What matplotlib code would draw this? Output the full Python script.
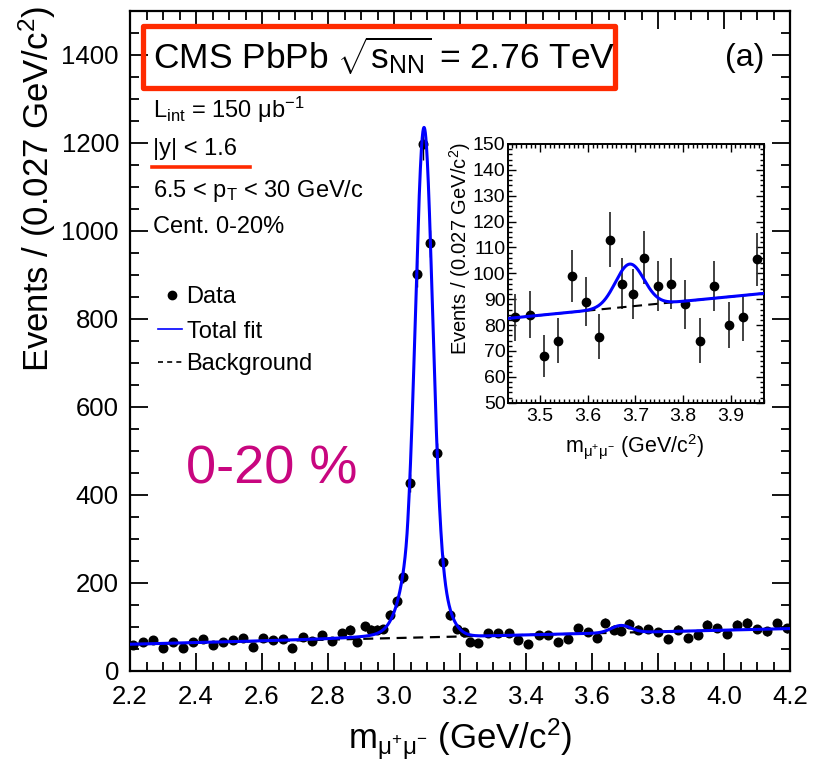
import numpy as np
import matplotlib
matplotlib.use("Agg")
import matplotlib.pyplot as plt
from matplotlib.ticker import MultipleLocator, FixedLocator, FormatStrFormatter
from matplotlib.patches import Rectangle
from matplotlib.lines import Line2D

plt.rcParams['font.family'] = ['Liberation Sans', 'DejaVu Sans']
plt.rcParams['mathtext.fontset'] = 'custom'
plt.rcParams['mathtext.rm'] = 'Liberation Sans'
plt.rcParams['mathtext.it'] = 'Liberation Sans:italic'
plt.rcParams['mathtext.bf'] = 'Liberation Sans:bold'

# ---------------- data ----------------
main_mass = [2.210, 2.240, 2.271, 2.301, 2.331, 2.362, 2.392, 2.422, 2.452, 2.483,
             2.513, 2.543, 2.573, 2.604, 2.634, 2.664, 2.692, 2.723, 2.753, 2.783,
             2.813, 2.843, 2.866, 2.888, 2.911, 2.930, 2.948, 2.968, 2.988, 3.010,
             3.028, 3.048, 3.071, 3.089, 3.110, 3.129, 3.149, 3.170, 3.192, 3.212,
             3.230, 3.256, 3.286, 3.316, 3.347, 3.377, 3.407, 3.438, 3.466, 3.497,
             3.527, 3.558, 3.588, 3.614, 3.639, 3.666, 3.689, 3.712, 3.740, 3.770,
             3.800, 3.830, 3.861, 3.891, 3.921, 3.949, 3.980, 4.010, 4.040, 4.071,
             4.101, 4.131, 4.162, 4.190]
main_counts = [59, 65, 71, 53, 65, 53, 66, 72, 58, 66,
               71, 74, 55, 74, 70, 72, 52, 78, 69, 81,
               69, 86, 94, 66, 102, 94, 94, 95, 127, 158,
               214, 427, 903, 1197, 972, 496, 248, 128, 95, 88,
               67, 63, 86, 86, 86, 71, 62, 82, 82, 67,
               72, 98, 88, 75, 110, 94, 92, 107, 94, 95,
               88, 72, 94, 76, 82, 105, 98, 84, 105, 109,
               95, 90, 108, 97]

inset_mass = [3.448, 3.478, 3.508, 3.537, 3.567, 3.596, 3.624, 3.647, 3.672, 3.695,
              3.719, 3.747, 3.775, 3.805, 3.835, 3.865, 3.896, 3.926, 3.956]
inset_counts = [83, 84, 68, 74, 99, 89, 75.5, 113, 96, 92,
                106, 95, 96, 88, 74, 95, 80, 83, 105.5]

main_xticks = [2.2, 2.4, 2.6, 2.8, 3.0, 3.2, 3.4, 3.6, 3.8, 4.0, 4.2]
main_yticks = [0, 200, 400, 600, 800, 1000, 1200, 1400]
inset_xticks = [3.5, 3.6, 3.7, 3.8, 3.9]
inset_yticks = [50, 60, 70, 80, 90, 100, 110, 120, 130, 140, 150]

# fit model parameters
bkg_at_22 = 60.4        # background level at 2.2 GeV
bkg_slope = 18.0        # per GeV
jpsi_mean = 3.091
jpsi_sigma_core = 0.025
jpsi_amp_core = 940.0
jpsi_cb_alpha = 2.0
jpsi_cb_n = 1.5
jpsi_sigma_wide = 0.048
jpsi_amp_wide = 219.0
psi2s_mean = 3.688
psi2s_sigma = 0.030
psi2s_amp = 16.4


def background(m):
    return bkg_at_22 + bkg_slope * (m - 2.2)


def crystal_ball(t, alpha, n):
    out = np.exp(-0.5 * t ** 2)
    A = (n / alpha) ** n * np.exp(-0.5 * alpha ** 2)
    B = n / alpha - alpha
    tail = t < -alpha
    out[tail] = A * (B - t[tail]) ** (-n)
    return out


def total_fit(m):
    t = (m - jpsi_mean) / jpsi_sigma_core
    sig = jpsi_amp_core * crystal_ball(t, jpsi_cb_alpha, jpsi_cb_n)
    sig += jpsi_amp_wide * np.exp(-0.5 * ((m - jpsi_mean) / jpsi_sigma_wide) ** 2)
    sig += psi2s_amp * np.exp(-0.5 * ((m - psi2s_mean) / psi2s_sigma) ** 2)
    return background(m) + sig


# ---------------- figure ----------------
W, H = 813, 760
fig = plt.figure(figsize=(W / 100, H / 100), dpi=100)


def fx(px):
    return px / W


def fy(py):
    return 1 - py / H


ax = fig.add_axes([fx(130), fy(671), fx(790) - fx(130), fy(11) - fy(671)])
ax.set_xlim(2.2, 4.2)
ax.set_ylim(0, 1500)

mm = np.array(main_mass)
mc = np.array(main_counts, dtype=float)
ax.errorbar(mm, mc, yerr=np.sqrt(mc), fmt='o', color='black', ms=6.2,
            elinewidth=1.0, capsize=0, zorder=3)
xf = np.linspace(2.2, 4.2, 4001)
ax.plot(xf, background(xf), color='black', lw=1.6, dashes=(4.5, 3), zorder=4)
ax.plot(xf, total_fit(xf), color='#0000ff', lw=2.2, zorder=5)

ax.xaxis.set_major_locator(FixedLocator(main_xticks))
ax.xaxis.set_minor_locator(MultipleLocator(0.05))
ax.xaxis.set_major_formatter(FormatStrFormatter('%.1f'))
ax.yaxis.set_major_locator(FixedLocator(main_yticks))
ax.yaxis.set_minor_locator(MultipleLocator(50))
ax.tick_params(which='both', direction='in', top=True, right=True, width=1.3)
ax.tick_params(which='major', length=13, labelsize=18.5, pad=8)
ax.tick_params(axis='x', which='major', pad=10)
ax.tick_params(which='minor', length=6.5)
for s in ax.spines.values():
    s.set_linewidth(1.6)

fig.text(fx(37), fy(6), r"Events / (0.027 GeV/c$^{2}$)", rotation=90,
         ha='center', va='top', fontsize=25)
fig.text(fx(460), fy(739), r"m$_{\mathrm{μ^{+}μ^{-}}}$ (GeV/c$^{2}$)",
         ha='center', va='center', fontsize=25)

# CMS box
red = '#ff2a00'
fig.patches.append(Rectangle((fx(142.5), fy(87.5)), fx(614.5) - fx(142.5),
                             fy(25.5) - fy(87.5), transform=fig.transFigure,
                             fill=False, edgecolor=red, linewidth=3.8,
                             joinstyle='round', zorder=10))
fig.text(fx(153), fy(69), r"CMS PbPb $\sqrt{\mathrm{s}_{\mathrm{NN}}}$ = 2.76 TeV",
         ha='left', va='baseline', fontsize=25.5, zorder=11)

fs_info = 17
fig.text(fx(153), fy(118), r"L$_{\mathrm{int}}$ = 150 μb$^{\mathrm{-1}}$",
         ha='left', va='baseline', fontsize=fs_info)
fig.text(fx(153), fy(155), "|y| < 1.6", ha='left', va='baseline', fontsize=fs_info)
fig.lines.append(Line2D([fx(152), fx(250)], [fy(166.5), fy(166.5)],
                        transform=fig.transFigure, color=red, lw=2.6))
fig.text(fx(153), fy(196.5), r"6.5 < p$_{\mathrm{T}}$ < 30 GeV/c",
         ha='left', va='baseline', fontsize=fs_info)
fig.text(fx(153), fy(233), "Cent. 0-20%", ha='left', va='baseline', fontsize=fs_info)

# legend (drawn by hand, ROOT style)
fig.lines.append(Line2D([fx(171.7)], [fy(295)], transform=fig.transFigure,
                        marker='o', color='black', ms=6.0, linestyle='none'))
fig.text(fx(186.5), fy(303), "Data", ha='left', va='baseline', fontsize=fs_info)
fig.lines.append(Line2D([fx(158), fx(182)], [fy(329), fy(329)],
                        transform=fig.transFigure, color='#0000ff', lw=1.2))
fig.text(fx(186.5), fy(338), "Total fit", ha='left', va='baseline', fontsize=fs_info)
fig.lines.append(Line2D([fx(158), fx(182)], [fy(361.5), fy(361.5)],
                        transform=fig.transFigure, color='black', lw=1.2,
                        dashes=(3, 2.5)))
fig.text(fx(186.5), fy(370), "Background", ha='left', va='baseline', fontsize=fs_info)

fig.text(fx(186), fy(483), "0-20 %", ha='left', va='baseline', fontsize=39,
         color='#c8067f')
fig.text(fx(745), fy(58), "(a)", ha='center', va='center', fontsize=23)

# ---------------- inset ----------------
axi = fig.add_axes([fx(508.3), fy(402.7), fx(764) - fx(508.3), fy(144) - fy(402.7)])
axi.set_facecolor('white')
axi.set_xlim(3.433, 3.970)
axi.set_ylim(50, 150)
im = np.array(inset_mass)
ic = np.array(inset_counts, dtype=float)
axi.errorbar(im, ic, yerr=np.sqrt(ic), fmt='o', color='black', ms=6.0,
             ecolor='#333333', elinewidth=1.3, capsize=0, zorder=3)
xi = np.linspace(3.433, 3.970, 1500)
axi.plot(xi, background(xi), color='black', lw=1.5, dashes=(4.5, 3), zorder=4)
axi.plot(xi, total_fit(xi), color='#0000ff', lw=2.2, zorder=5)
axi.xaxis.set_major_locator(FixedLocator(inset_xticks))
axi.xaxis.set_minor_locator(MultipleLocator(0.01))
axi.xaxis.set_major_formatter(FormatStrFormatter('%.1f'))
axi.yaxis.set_major_locator(FixedLocator(inset_yticks))
axi.yaxis.set_minor_locator(MultipleLocator(2))
axi.tick_params(which='both', direction='in', top=True, right=True, width=1.0)
axi.tick_params(which='major', length=6, labelsize=14)
axi.tick_params(axis='y', which='major', pad=2)
axi.tick_params(axis='x', which='major', pad=4)
axi.tick_params(which='minor', length=3)
for s in axi.spines.values():
    s.set_linewidth(1.4)

fig.text(fx(460), fy(142), r"Events / (0.027 GeV/c$^{2}$)", rotation=90,
         ha='center', va='top', fontsize=14.5)
fig.text(fx(635), fy(446), r"m$_{\mathrm{μ^{+}μ^{-}}}$ (GeV/c$^{2}$)",
         ha='center', va='center', fontsize=15.5)

fig.savefig("out.png", dpi=100)
